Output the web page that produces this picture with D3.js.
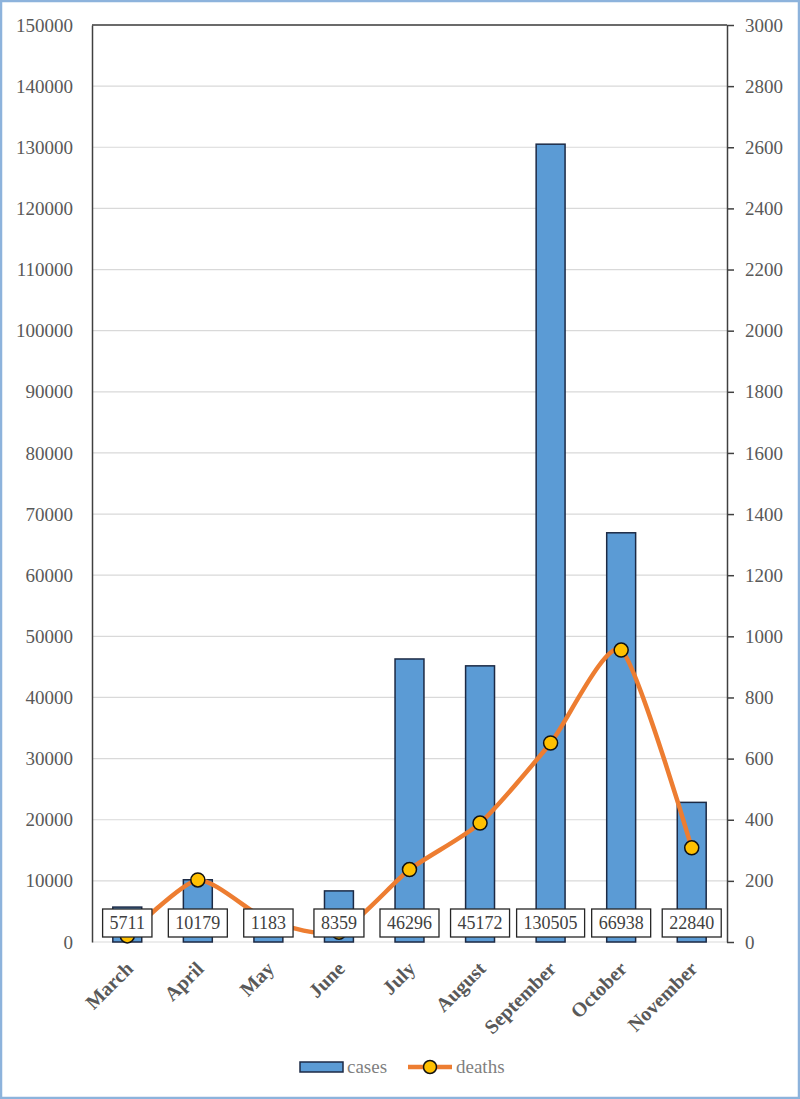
<!DOCTYPE html>
<html>
<head>
<meta charset="utf-8">
<script src="https://cdn.jsdelivr.net/npm/d3@7"></script>
<style>
  body { margin: 0; background: #fff; }
  svg text { font-family: "Liberation Serif", "Times New Roman", serif; }
  .tick text { fill: #595959; font-size: 19px; }
  .month { fill: #595959; font-size: 20px; font-weight: bold; }
  .lbl { fill: #404040; font-size: 18px; }
  .leg { fill: #7f7f7f; font-size: 19px; }
</style>
</head>
<body>
<svg width="800" height="1099"></svg>
<script>
var months = ["March", "April", "May", "June", "July", "August", "September", "October", "November"];
var cases = [5711, 10179, 1183, 8359, 46296, 45172, 130505, 66938, 22840];
var deaths = [20, 203, 70, 32, 237, 389, 651, 955, 308];
var leftTicks = d3.range(0, 150001, 10000);
var rightTicks = d3.range(0, 3001, 200);

var svg = d3.select("svg"),
  margin = { left: 92, right: 73, top: 25, bottom: 157 },
  width = 800 - margin.left - margin.right,
  height = 1099 - margin.top - margin.bottom;

svg.append("rect")
  .attr("x", 1).attr("y", 1).attr("width", 798).attr("height", 1097)
  .attr("fill", "none").attr("stroke", "#8db3dc").attr("stroke-width", 2.5);

var g = svg.append("g")
  .attr("transform", "translate(" + margin.left + "," + margin.top + ")");

var x = d3.scaleBand().domain(months).range([0, width]).paddingInner(0.59).paddingOuter(0.295);
var xc = function(d) { return x(d) + x.bandwidth() / 2; };
var y = d3.scaleLinear().domain([0, 150000]).range([height, 0]);
var y2 = d3.scaleLinear().domain([0, 3000]).range([height, 0]);

// gridlines
g.append("g")
  .selectAll("line")
  .data(leftTicks)
  .enter()
  .append("line")
  .attr("x1", 0).attr("x2", width)
  .attr("y1", d => y(d)).attr("y2", d => y(d))
  .attr("stroke", "#d9d9d9").attr("stroke-width", 1.2);

// top border line
g.append("line")
  .attr("x1", 0).attr("x2", width).attr("y1", 0).attr("y2", 0)
  .attr("stroke", "#404040").attr("stroke-width", 1.5);

// left axis
var ax = g.append("g")
  .call(d3.axisLeft(y).tickValues(leftTicks).tickSize(0).tickPadding(19).tickFormat(d3.format("d")));
ax.select(".domain").attr("stroke", "#404040").attr("stroke-width", 1.5);

// right axis
var ar = g.append("g")
  .attr("transform", "translate(" + width + ",0)")
  .call(d3.axisRight(y2).tickValues(rightTicks).tickSizeInner(7).tickSizeOuter(0).tickPadding(11).tickFormat(d3.format("d")));
ar.select(".domain").attr("stroke", "#404040").attr("stroke-width", 1.5);
ar.selectAll(".tick line").attr("stroke", "#404040").attr("stroke-width", 1.5);

// bars
g.selectAll("rect.bar")
  .data(months)
  .enter()
  .append("rect")
  .attr("class", "bar")
  .attr("x", d => x(d))
  .attr("width", x.bandwidth())
  .attr("y", (d, i) => y(cases[i]))
  .attr("height", (d, i) => height - y(cases[i]))
  .attr("fill", "#5b9bd5")
  .attr("stroke", "#1c2a45")
  .attr("stroke-width", 1.5);

// deaths line
var line = d3.line()
  .x((d, i) => xc(months[i]))
  .y(d => y2(d))
  .curve(d3.curveCardinal.tension(0.35));

g.append("path")
  .datum(deaths)
  .attr("d", line)
  .attr("fill", "none")
  .attr("stroke", "#ed7d31")
  .attr("stroke-width", 4.5)
  .attr("stroke-linecap", "round");

g.selectAll("circle.pt")
  .data(deaths)
  .enter()
  .append("circle")
  .attr("class", "pt")
  .attr("cx", (d, i) => xc(months[i]))
  .attr("cy", d => y2(d))
  .attr("r", 7)
  .attr("fill", "#ffc000")
  .attr("stroke", "#111")
  .attr("stroke-width", 1.5);

// data labels
var labels = g.selectAll("g.lbl")
  .data(cases)
  .enter()
  .append("g")
  .attr("transform", (d, i) => "translate(" + xc(months[i]) + "," + (height - 19) + ")");

labels.append("text")
  .attr("class", "lbl")
  .attr("text-anchor", "middle")
  .attr("dy", "0.35em")
  .text(d => d);

labels.each(function() {
  var gg = d3.select(this);
  var b = gg.select("text").node().getBBox();
  gg.insert("rect", "text")
    .attr("x", b.x - 7).attr("y", -14)
    .attr("width", b.width + 14).attr("height", 28)
    .attr("fill", "#fff")
    .attr("stroke", "#262626")
    .attr("stroke-width", 1.3);
});

// month labels
g.selectAll("text.month")
  .data(months)
  .enter()
  .append("text")
  .attr("class", "month")
  .attr("text-anchor", "end")
  .attr("transform", d => "translate(" + (xc(d) + 7) + "," + (height + 28) + ")rotate(-45)")
  .text(d => d);

// legend
var leg = svg.append("g").attr("transform", "translate(0,1067)");
leg.append("rect")
  .attr("x", 300).attr("y", -5).attr("width", 43).attr("height", 10)
  .attr("fill", "#5b9bd5").attr("stroke", "#1c2a45").attr("stroke-width", 1.5);
leg.append("text").attr("class", "leg").attr("x", 347).attr("dy", "0.32em").text("cases");
leg.append("line")
  .attr("x1", 408).attr("x2", 452).attr("y1", 0).attr("y2", 0)
  .attr("stroke", "#ed7d31").attr("stroke-width", 4.5);
leg.append("circle")
  .attr("cx", 430).attr("cy", 0).attr("r", 6.5)
  .attr("fill", "#ffc000").attr("stroke", "#111").attr("stroke-width", 1.5);
leg.append("text").attr("class", "leg").attr("x", 456).attr("dy", "0.32em").text("deaths");
</script>
</body>
</html>
